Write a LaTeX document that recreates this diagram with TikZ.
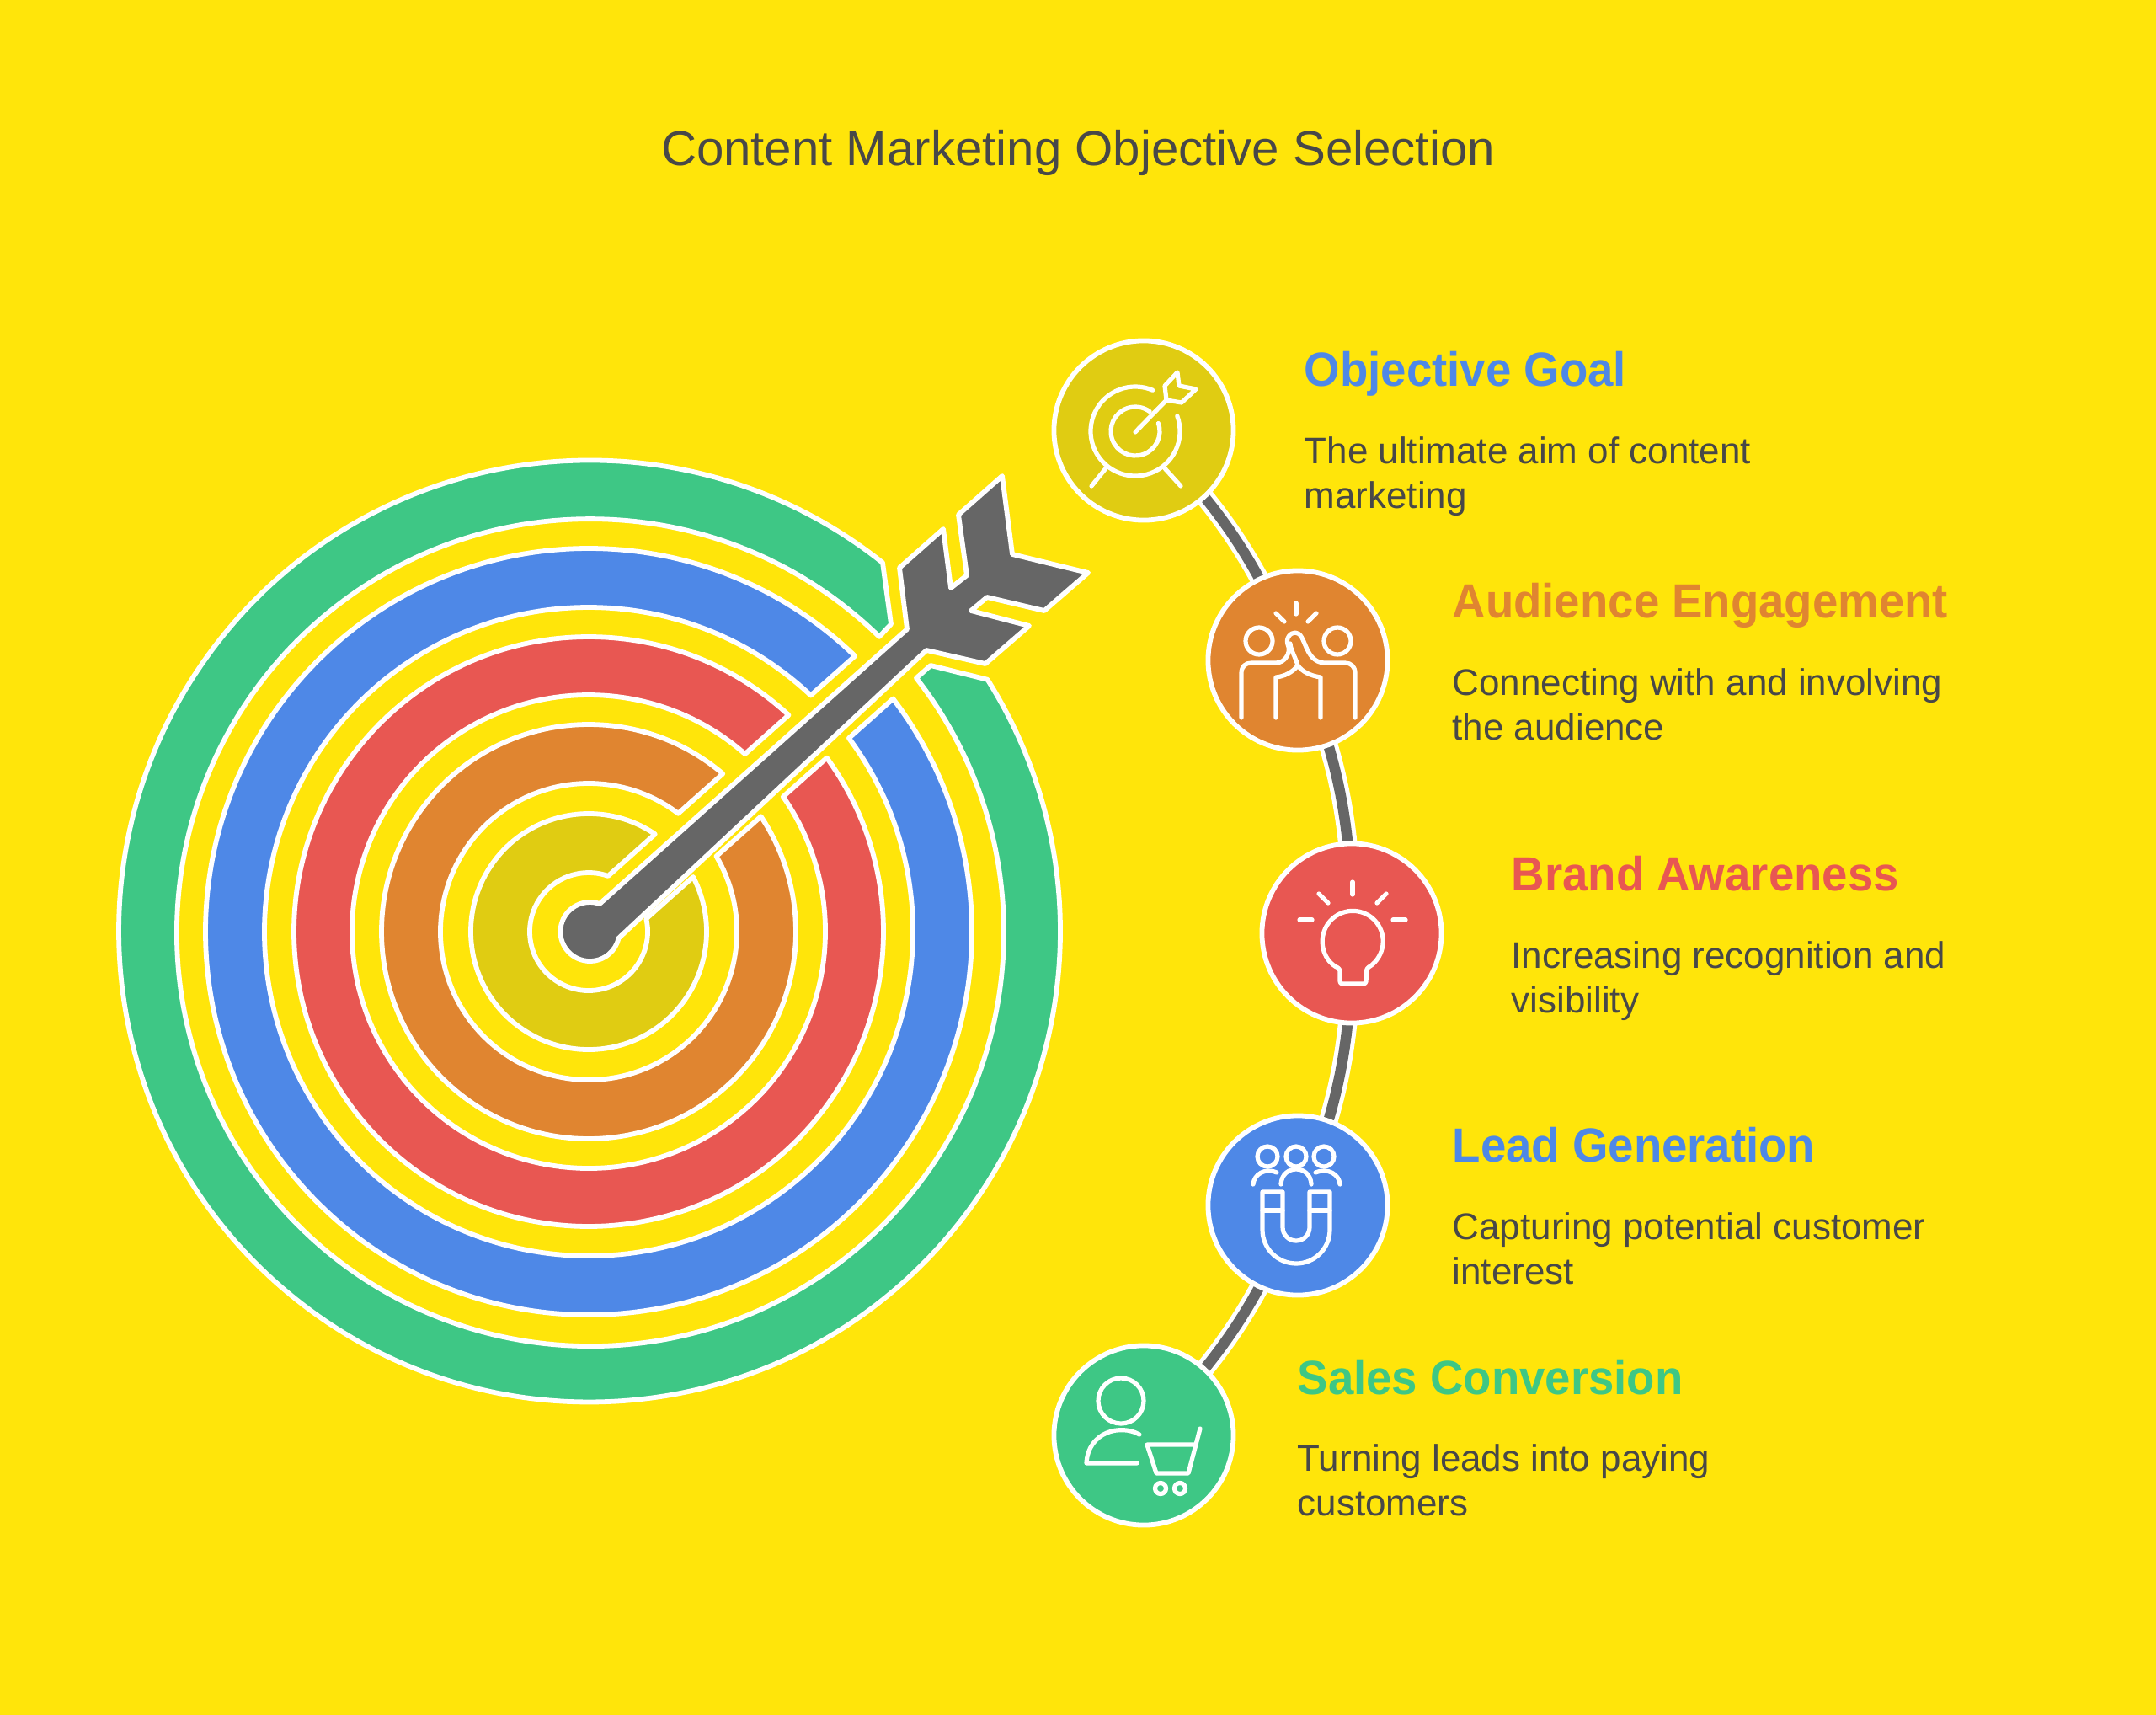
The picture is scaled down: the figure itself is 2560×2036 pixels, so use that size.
\documentclass[tikz,border=0pt]{standalone}
\usepackage{fontspec}
\setmainfont{Liberation Sans}
\usetikzlibrary{backgrounds}

\definecolor{bgcol}{HTML}{FFE50A}
\definecolor{greencol}{HTML}{3EC785}
\definecolor{bluecol}{HTML}{4E88E7}
\definecolor{redcol}{HTML}{E85752}
\definecolor{orangecol}{HTML}{E08530}
\definecolor{olivecol}{HTML}{E0CC12}
\definecolor{greycol}{HTML}{666666}
\definecolor{textcol}{HTML}{484848}

\tikzset{
    ring/.style={draw=white,line width=0.58mm,line join=round},
    stop/.style={circle,draw=white,line width=0.58mm,minimum size=2.13cm,inner sep=0pt},
    link/.style={draw=white,line width=0.5mm,double=greycol,double distance=1.25mm},
    icon/.style={draw=white,line width=0.52mm,line cap=round,line join=round},
    heading/.style={anchor=base west,inner sep=0pt,font=\fontsize{16.2}{20}\selectfont\bfseries\addfontfeature{FakeStretch=0.958}},
    body/.style={anchor=base west,inner sep=0pt,align=left,text=textcol,font=\fontsize{12.5}{14.8}\selectfont},
}

\begin{document}
\begin{tikzpicture}[x=0.01cm,y=-0.01cm]
    \useasboundingbox (0,0) rectangle (2560,2036);

    \node[anchor=base,inner sep=0pt,text=textcol,font=\fontsize{16.55}{20}\selectfont] (title) at (1280,196) {Content Marketing Objective Selection};

    % target rings, all cut along the arrow
    \foreach \ra/\rb/\ringcol in {70/140/olivecol,176/246/orangecol,281/350/redcol,385/455/bluecol}{
        \pgfmathsetmacro\ao{-41.7-asin(34/\rb)}
        \pgfmathsetmacro\bo{-41.7+asin(34/\rb)-360}
        \pgfmathsetmacro\ai{-41.7-asin(34/\ra)}
        \pgfmathsetmacro\bi{-41.7+asin(34/\ra)-360}
        \draw[ring,fill=\ringcol] ([shift={(699,1106)}]\ao:\rb) arc[start angle=\ao,end angle=\bo,radius=\rb]
            -- ([shift={(699,1106)}]\bi:\ra) arc[start angle=\bi,end angle=\ai,radius=\ra] -- cycle;
    }
    \draw[ring,fill=greencol] (1048,668) arc[start angle=-51.5,end angle=-392.3,radius=559]
        -- (1105,790) -- (1088,805) arc[start angle=-397.97,end angle=-45.67-0,radius=491] -- (1058,741) -- cycle;

    % arrow
    \draw[ring,fill=greycol] (712,1073) arc[start angle=-70.7,end angle=-347.3,radius=35] -- (1100,772) -- (1170,788)
        -- (1222,743) -- (1153,725) -- (1172,709) -- (1240,725) -- (1292,680) -- (1202,658) -- (1190,565) -- (1138,611)
        -- (1148,683) -- (1129,698) -- (1120,628) -- (1068,674) -- (1077,747) -- cycle;

    % stops
    \node[stop,fill=olivecol] (goal) at (1358,511) {};
    \node[stop,fill=orangecol] (engage) at (1541,784) {};
    \node[stop,fill=redcol] (brand) at (1605,1108) {};
    \node[stop,fill=bluecol] (lead) at (1541,1431) {};
    \node[stop,fill=greencol] (sales) at (1358,1704) {};

    \begin{scope}[on background layer]
        \fill[bgcol] (0,0) rectangle (2560,2036);
        \draw[link] (goal.center) to[bend left=11.25] (engage.center);
        \draw[link] (engage.center) to[bend left=11.25] (brand.center);
        \draw[link] (brand.center) to[bend left=11.25] (lead.center);
        \draw[link] (lead.center) to[bend left=11.25] (sales.center);
    \end{scope}

    % icon goal
    \draw[icon] (1348,512) ++(-20:53) arc[start angle=-20,end angle=293,radius=53];
    \draw[icon] (1348,512) ++(-19:29) arc[start angle=-19,end angle=306,radius=29];
    \draw[icon] (1348,513) -- (1385,475);
    \draw[icon] (1385,475) -- (1383,458) -- (1398,442) -- (1400,458) -- (1420,462) -- (1403,478) -- cycle;
    \draw[icon] (1313,556) -- (1296,577);
    \draw[icon] (1383,556) -- (1402,577);

    % icon engage
    \draw[icon] (1495,761) circle[radius=16];
    \draw[icon] (1588,761) circle[radius=16];
    \draw[icon] (1539,716) -- (1539,729);
    \draw[icon] (1515,728) -- (1525,738);
    \draw[icon] (1563,728) -- (1553,738);
    \draw[icon] (1474,852) -- (1474,799) .. controls (1474,791) and (1479,787) .. (1486,787) -- (1515,787)
        .. controls (1526,787) and (1532,775) .. (1530,768) .. controls (1525,757) and (1533,751) .. (1538,751)
        .. controls (1551,751) and (1548,785) .. (1572,787) -- (1597,787) .. controls (1604,787) and (1609,791) .. (1609,799) -- (1609,852);
    \draw[icon] (1515,852) -- (1515,804) .. controls (1525,803) and (1535,798) .. (1541,790);
    \draw[icon] (1568,852) -- (1568,804) .. controls (1555,802) and (1546,797) .. (1541,790) .. controls (1538,780) and (1532,770) .. (1532,764);

    % icon brand
    \draw[icon] (1606,1047) -- (1606,1062);
    \draw[icon] (1566,1061) -- (1577,1072);
    \draw[icon] (1646,1061) -- (1635,1072);
    \draw[icon] (1543,1092) -- (1558,1092);
    \draw[icon] (1654,1092) -- (1669,1092);
    \draw[icon,rounded corners=0.3mm] (1591,1150) arc[start angle=-245,end angle=63,radius=36] -- (1622,1168) -- (1591,1168) -- cycle;

    % icon lead
    \foreach \hx in {1505,1539,1572}{
        \draw[icon] (\hx,1373) circle[radius=12];
    }
    \draw[icon] (1488,1406) .. controls (1489,1394) and (1502,1386) .. (1516,1392);
    \draw[icon] (1521,1406) .. controls (1522,1382) and (1556,1382) .. (1557,1406);
    \draw[icon] (1591,1406) .. controls (1590,1394) and (1577,1386) .. (1562,1392);
    \draw[icon] (1499,1415) -- (1523,1415) -- (1523,1457) arc[start angle=180,end angle=0,radius=16] -- (1555,1415)
        -- (1579,1415) -- (1579,1460) arc[start angle=0,end angle=180,radius=40] -- cycle;
    \draw[icon] (1499,1437) -- (1523,1437);
    \draw[icon] (1555,1437) -- (1579,1437);

    % icon sales
    \draw[icon] (1331,1663) circle[radius=27];
    \draw[icon] (1353,1703) .. controls (1330,1690) and (1292,1700) .. (1290,1737) -- (1350,1737);
    \draw[icon] (1425,1696) -- (1411,1749) -- (1373,1749) -- (1362,1715) -- (1418,1715);
    \draw[icon] (1378,1767) circle[radius=6.5];
    \draw[icon] (1401,1767) circle[radius=6.5];

    % labels
    \node[heading,text=bluecol] (goal head) at (1548,458) {Objective Goal};
    \node[body] (goal text) at (1548,603) {The ultimate aim of content\\marketing};
    \node[heading,text=orangecol] (engage head) at (1724,733) {Audience Engagement};
    \node[body] (engage text) at (1724,878) {Connecting with and involving\\the audience};
    \node[heading,text=redcol] (brand head) at (1794,1057) {Brand Awareness};
    \node[body] (brand text) at (1794,1202) {Increasing recognition and\\visibility};
    \node[heading,text=bluecol] (lead head) at (1724,1379) {Lead Generation};
    \node[body] (lead text) at (1724,1524) {Capturing potential customer\\interest};
    \node[heading,text=greencol] (sales head) at (1540,1655) {Sales Conversion};
    \node[body] (sales text) at (1540,1799) {Turning leads into paying\\customers};
\end{tikzpicture}
\end{document}
